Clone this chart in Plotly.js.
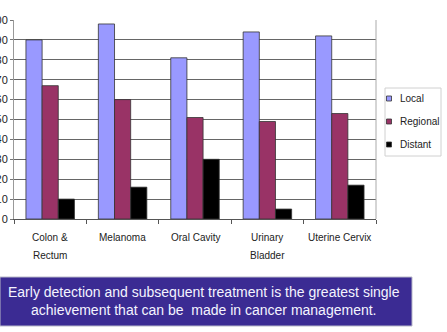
<!DOCTYPE html>
<html>
<head>
<meta charset="utf-8">
<script src="https://cdn.plot.ly/plotly-3.0.1.min.js"></script>
<style>
html,body{margin:0;padding:0;background:#fff;}
#chart{width:447px;height:332px;}
</style>
</head>
<body>
<div id="chart"></div>
<script>
const categories = ["Colon &\nRectum", "Melanoma", "Oral Cavity", "Urinary\nBladder", "Uterine Cervix"];
const seriesNames = ["Local", "Regional", "Distant"];
const localValues = [90, 98, 81, 94, 92];
const regionalValues = [67, 60, 51, 49, 53];
const distantValues = [10, 16, 30, 5, 17];
const yTicks = [0, 10, 20, 30, 40, 50, 60, 70, 80, 90, 100];
const caption = "Early detection and subsequent treatment is the greatest single<br>achievement that can be  made in cancer management.";

const colors = ["#9999FF", "#993366", "#000000"];
const allValues = [localValues, regionalValues, distantValues];
const FONT = '"Liberation Sans", Arial, sans-serif';

const catKeys = categories.map(c => c.replace("\n", " "));

const traces = allValues.map((vals, i) => ({
  type: "bar",
  name: seriesNames[i],
  x: catKeys,
  y: vals,
  marker: {color: colors[i], line: {color: "#333333", width: 0.8}},
  hoverinfo: "x+y+name"
}));

const annotations = [];
categories.forEach((c, ci) => {
  c.split("\n").forEach((line, li) => {
    annotations.push({
      xref: "x", yref: "paper", x: catKeys[ci], y: 0,
      yanchor: "middle", xanchor: "center",
      yshift: -18 - li * 18,
      text: line, showarrow: false,
      font: {family: FONT, size: 10, color: "#222"}
    });
  });
});

// custom legend
const shapes = [];
shapes.push({type: "rect", xref: "paper", yref: "paper",
  x0: (385 - 14) / 362, x1: (441 - 14) / 362,
  y0: (219 - 156) / 199, y1: (219 - 88) / 199,
  line: {color: "#d0d0d0", width: 1}, fillcolor: "rgba(0,0,0,0)"});
seriesNames.forEach((n, i) => {
  const cy = 98.5 + i * 23;
  shapes.push({type: "rect", xref: "paper", yref: "paper",
    x0: (386.5 - 14) / 362, x1: (391.5 - 14) / 362,
    y0: (219 - (cy + 2.5)) / 199, y1: (219 - (cy - 2.5)) / 199,
    line: {color: "#333", width: 0.8}, fillcolor: colors[i]});
  annotations.push({xref: "paper", yref: "paper",
    x: (398 - 14) / 362, y: (219 - cy) / 199,
    xanchor: "left", yanchor: "middle", showarrow: false,
    text: n, font: {family: FONT, size: 10, color: "#222"}});
});

// caption box
shapes.push({type: "rect", xref: "paper", yref: "paper",
  x0: (0 - 14) / 362, x1: (412 - 14) / 362,
  y0: (219 - 326) / 199, y1: (219 - 277) / 199,
  line: {color: "#b8b8c8", width: 1}, fillcolor: "#3B2B93"});
annotations.push({xref: "paper", yref: "paper",
  x: (204 - 14) / 362, y: (219 - 301) / 199,
  xanchor: "center", yanchor: "middle", showarrow: false,
  text: caption, align: "center",
  font: {family: FONT, size: 14, color: "#F4F4FF"}});

// right border of plot area
shapes.push({type: "line", xref: "paper", yref: "paper", x0: 1, x1: 1, y0: 0, y1: 1,
  line: {color: "#aaa", width: 1}});

const layout = {
  width: 447, height: 332,
  margin: {l: 14, r: 71, t: 20, b: 113},
  paper_bgcolor: "#ffffff", plot_bgcolor: "#ffffff",
  barmode: "group", bargap: 0.33, bargroupgap: 0,
  showlegend: false,
  xaxis: {
    type: "category", tickson: "boundaries", ticks: "outside", ticklen: 4,
    tickcolor: "#555", showticklabels: false, showgrid: false,
    showline: true, linecolor: "#555", linewidth: 1, mirror: false,
    zeroline: false
  },
  yaxis: {
    range: [0, 100], tickvals: yTicks, ticks: "outside", ticklen: 3,
    tickcolor: "#777", showline: true, linecolor: "#999", linewidth: 1,
    gridcolor: "#666", gridwidth: 1, zeroline: false,
    tickfont: {family: FONT, size: 11, color: "#222"}
  },
  shapes: shapes,
  annotations: annotations
};

Plotly.newPlot("chart", traces, layout, {displayModeBar: false, staticPlot: true});
</script>
</body>
</html>
